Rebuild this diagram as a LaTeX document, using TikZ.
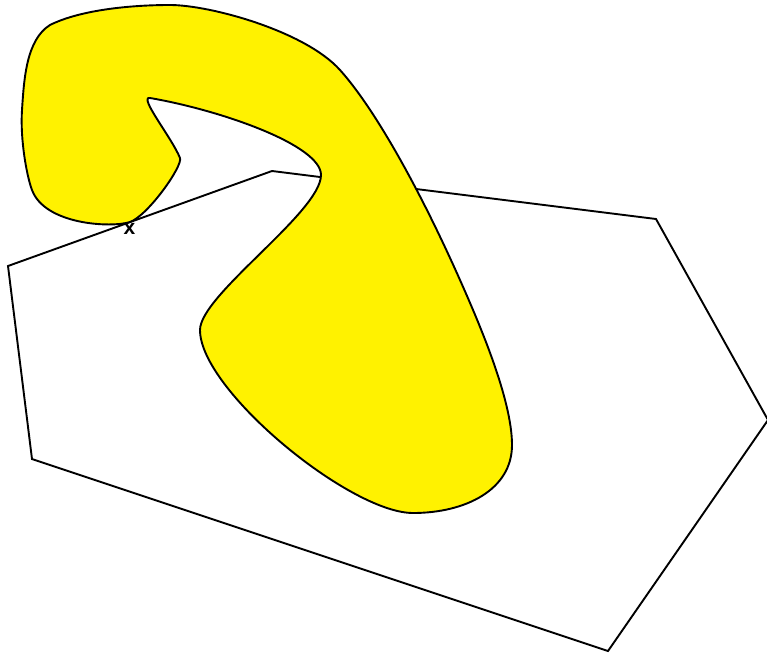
\documentclass[tikz,border=0pt]{standalone}
\usepackage{fontspec}
\setmainfont{Liberation Sans}
\begin{document}
\begin{tikzpicture}[x=1pt,y=-1pt,
  edge/.style={draw=black,line width=1.9pt,line join=miter},
  blob/.style={draw=black,line width=1.9pt,fill=yellow}]
\useasboundingbox (0,0) rectangle (767,653);
% polygon
\coordinate (p1) at (272,171);
\coordinate (p2) at (656,219);
\coordinate (p3) at (768,420);
\coordinate (p4) at (608,651);
\coordinate (p5) at (32,459);
\coordinate (p6) at (8,266);
\draw[edge] (p1) -- (p2) -- (p3) -- (p4) -- (p5) -- (p6) -- cycle;
% yellow shape
\path[blob] (130,222)
  .. controls (112,228) and (45,225) .. (32,190)
  .. controls (27,177) and (20,140) .. (22,110)
  .. controls (24,80) and (26,40) .. (50,25)
  .. controls (80,10) and (130,5) .. (170,5)
  .. controls (210,5) and (305,31) .. (340,70)
  .. controls (375,109) and (420,190) .. (460,280)
  .. controls (480,325) and (512,400) .. (512,445)
  .. controls (512,490) and (465,513) .. (413,513)
  .. controls (350,513) and (200,390) .. (200,330)
  .. controls (200,295) and (321,212) .. (321,175)
  .. controls (321,145) and (220,110) .. (150,98)
  .. controls (138,96) and (172,138) .. (180,158)
  .. controls (183,166) and (148,215.5) .. (130,222)
  -- cycle;
\node[font=\fontsize{21}{21}\selectfont\bfseries, inner sep=0pt, anchor=base] (lbl) at (129.5,234) {x};
\end{tikzpicture}
\end{document}
